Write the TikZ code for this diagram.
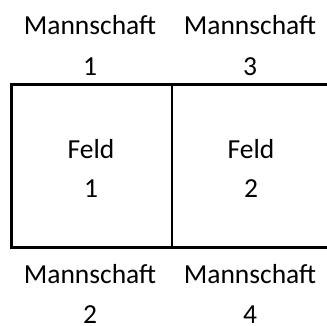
\documentclass[tikz,border=0pt]{standalone}
\usepackage{fontspec}
\setmainfont{Carlito}
\begin{document}
\begin{tikzpicture}[x=1pt,y=-1pt,
  lbl/.style={inner sep=0pt,outer sep=0pt,align=center,anchor=base,
    font=\fontsize{27.5}{41}\selectfont},
  thickline/.style={line width=3pt,line cap=rect},
  thinline/.style={line width=2pt}]
\useasboundingbox (0,0) rectangle (327,325);
\coordinate (tl) at (11,84.5);
\coordinate (tr) at (330,84.5);
\coordinate (bl) at (11,247.5);
\coordinate (br) at (330,247.5);
\coordinate (mt) at (171.5,84.5);
\coordinate (mb) at (171.5,247.5);
\draw[thickline] (tr) -- (tl) -- (bl) -- (br);
\draw[thinline] (mt) -- (mb);
\node[lbl] (m1) at (90,75) {Mannschaft\\1};
\node[lbl] (m3) at (250,75) {Mannschaft\\3};
\node[lbl,font=\fontsize{27.5}{39}\selectfont] (f1) at (91,197) {Feld\\1};
\node[lbl,font=\fontsize{27.5}{39}\selectfont] (f2) at (251,197) {Feld\\2};
\node[lbl,font=\fontsize{27.5}{40}\selectfont] (m2) at (90,323) {Mannschaft\\2};
\node[lbl,font=\fontsize{27.5}{40}\selectfont] (m4) at (250,323) {Mannschaft\\4};
\end{tikzpicture}
\end{document}
